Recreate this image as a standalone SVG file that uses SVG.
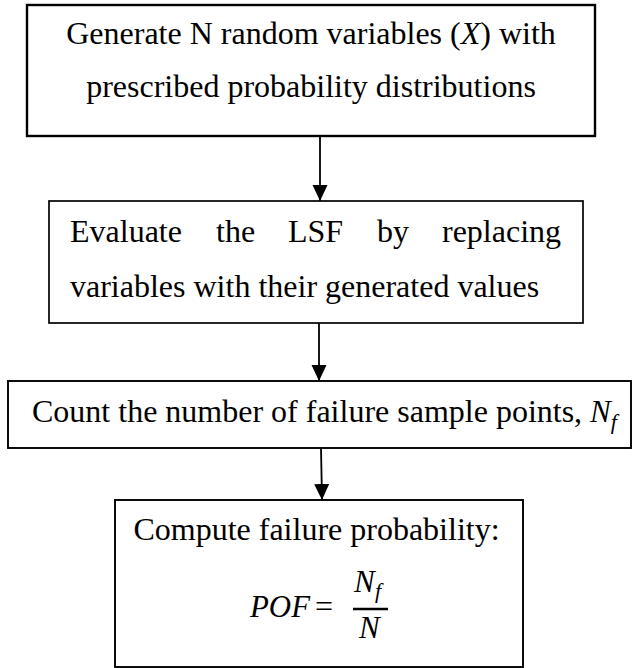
<svg xmlns="http://www.w3.org/2000/svg" width="632" height="668" viewBox="0 0 632 668">
<style>
  .box { fill: #ffffff; stroke: #000000; }
  .t { font-family: "Liberation Serif", "Times New Roman", serif; font-size: 32px; fill: #000000; }
  .m { font-family: "Liberation Serif", "Times New Roman", serif; font-style: italic; fill: #000000; }
  .conn { stroke: #000000; stroke-width: 1.8; fill: none; }
</style>
<defs>
  <marker id="arrow" markerUnits="userSpaceOnUse" markerWidth="16" markerHeight="16" refX="16" refY="8" orient="auto" viewBox="0 0 16 16">
    <polygon points="0,0.5 16,8 0,15.5" fill="#000000"/>
  </marker>
</defs>
<rect width="632" height="668" fill="#ffffff"/>

<g id="node1">
  <rect class="box" x="27" y="5" width="568" height="131" stroke-width="2.4"/>
  <text class="t" x="311" y="44" text-anchor="middle">Generate N random variables (<tspan font-style="italic">X</tspan>) with</text>
  <text class="t" x="311" y="97" text-anchor="middle">prescribed probability distributions</text>
</g>

<g id="node2">
  <rect class="box" x="49" y="201" width="534" height="122" stroke-width="1.7"/>
  <text class="t" y="242"><tspan x="70">Evaluate</tspan><tspan x="216">the</tspan><tspan x="288">LSF</tspan><tspan x="377">by</tspan><tspan x="442">replacing</tspan></text>
  <text class="t" x="70" y="297">variables with their generated values</text>
</g>

<g id="node3">
  <rect class="box" x="8" y="381" width="623" height="67" stroke-width="1.9"/>
  <text class="t" x="32" y="422">Count the number of failure sample points, <tspan class="m" font-size="31">N</tspan><tspan class="m" font-size="22" dy="7">f</tspan></text>
</g>

<g id="node4">
  <rect class="box" x="115" y="500" width="408" height="167" stroke-width="1.9"/>
  <text class="t" x="316.5" y="540" text-anchor="middle">Compute failure probability:</text>
  <text class="m" x="250" y="617" font-size="31" textLength="60" lengthAdjust="spacingAndGlyphs">POF</text>
  <text class="t" x="315" y="617" font-size="32">=</text>
  <text class="m" x="354" y="592" font-size="31">N</text>
  <text class="m" x="375" y="598" font-size="22">f</text>
  <line x1="353" y1="609" x2="388" y2="609" stroke="#000000" stroke-width="2.4"/>
  <text class="m" x="359" y="638" font-size="31">N</text>
</g>

<g id="connectors">
  <line class="conn" x1="320" y1="136" x2="320" y2="201" marker-end="url(#arrow)"/>
  <line class="conn" x1="319" y1="323" x2="319" y2="381" marker-end="url(#arrow)"/>
  <line class="conn" x1="321" y1="448" x2="322" y2="500" marker-end="url(#arrow)"/>
</g>
</svg>
